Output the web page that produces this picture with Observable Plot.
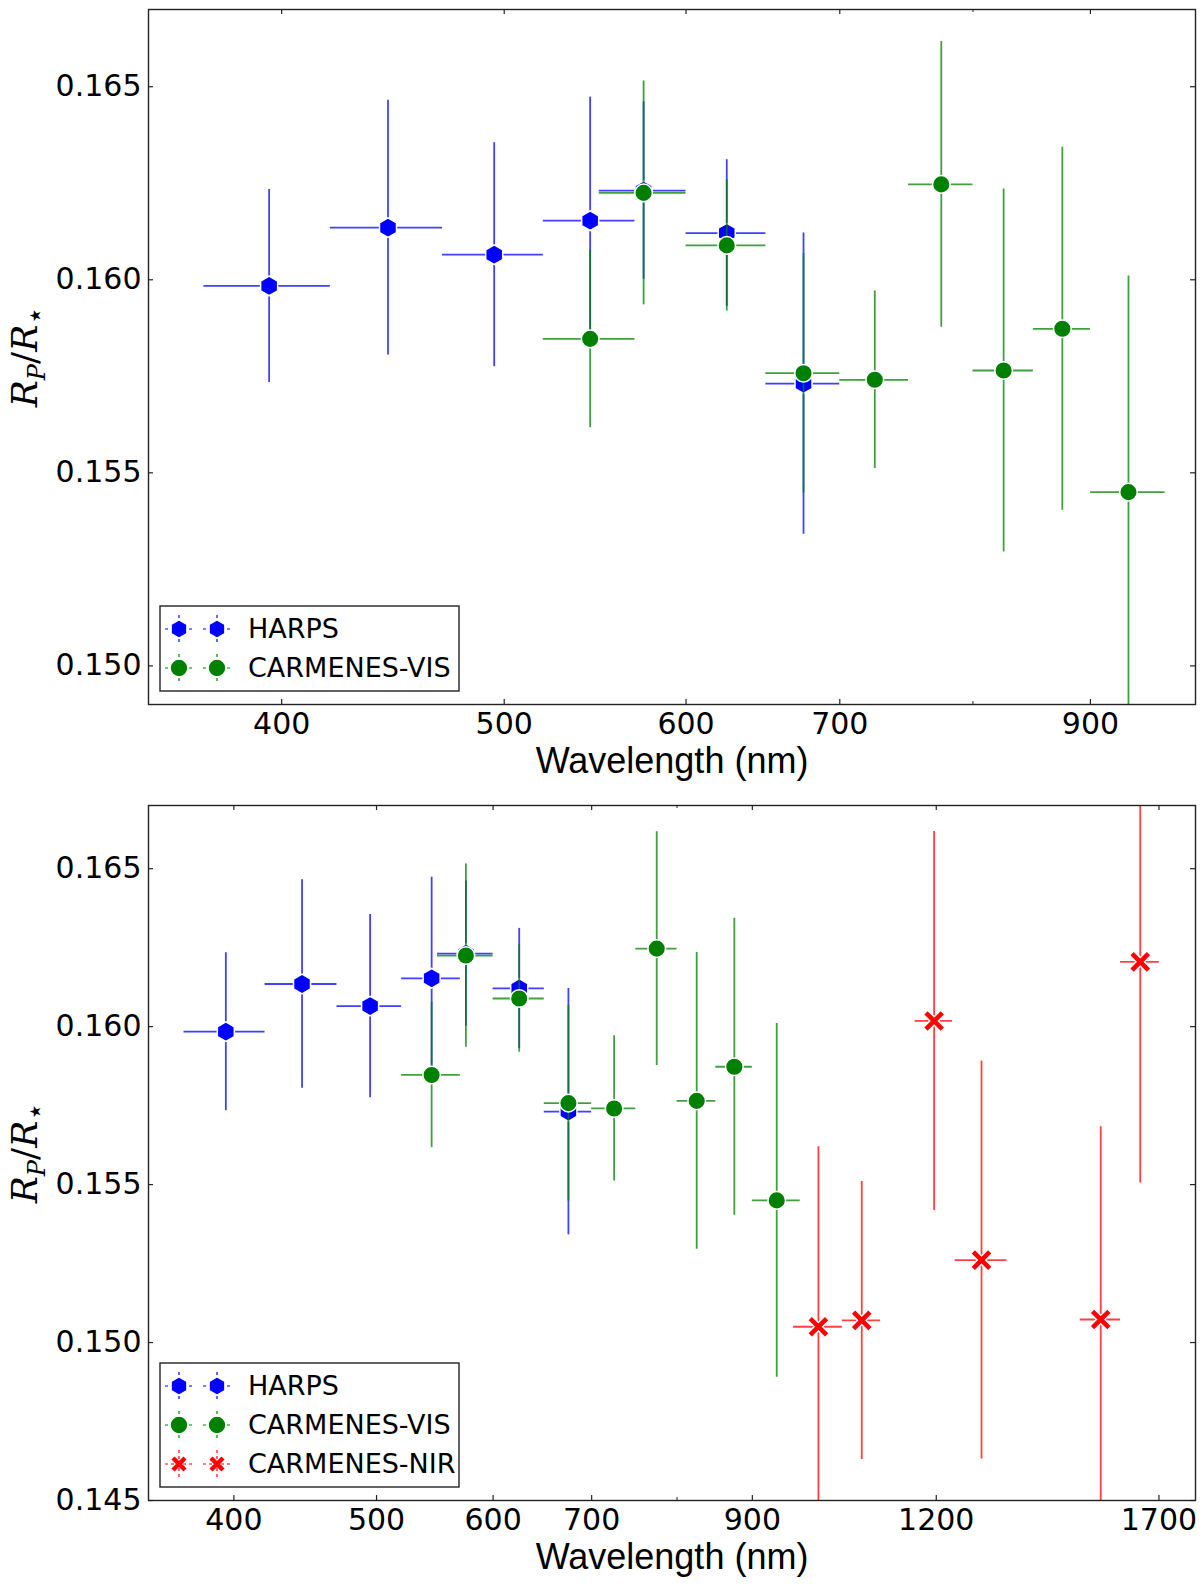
<!DOCTYPE html>
<html>
<head>
<meta charset="utf-8">
<script src="https://cdn.jsdelivr.net/npm/d3@7"></script>
<script src="https://cdn.jsdelivr.net/npm/@observablehq/plot@0.6"></script>
<style>
  body { margin: 0; background: white; overflow: hidden; }
  #chart svg { display: block; }
</style>
</head>
<body>
<div id="chart"></div>
<script>
// HARPS: bin centre (nm), bin half width, Rp/R*, 1-sigma error
const harpsWl = [395, 445, 495, 545, 575, 625, 675]
const harpsHalf = [25, 25, 25, 25, 25, 25, 25]
const harpsR = [0.15984, 0.16135, 0.16065, 0.16153, 0.16231, 0.16121, 0.15731]
const harpsErr = [0.0025, 0.0033, 0.0029, 0.0032, 0.0023, 0.0019, 0.0039]

// CARMENES-VIS
const visWl = [545, 575, 625, 675, 725, 775, 825, 875, 935]
const visHalf = [25, 25, 25, 25, 25, 25, 25, 25, 35]
const visR = [0.15847, 0.16225, 0.16089, 0.15758, 0.15741, 0.16247, 0.15765, 0.15873, 0.15450]
const visErr = [0.0023, 0.0029, 0.0017, 0.0031, 0.0023, 0.0037, 0.0047, 0.0047, 0.0056]

// CARMENES-NIR
const nirWl = [998, 1068, 1196, 1288, 1552, 1651]
const nirHalf = [38, 32, 35, 52, 49, 50]
const nirR = [0.15050, 0.15070, 0.16018, 0.15261, 0.15073, 0.16205]
const nirErr = [0.0057, 0.0044, 0.0060, 0.0063, 0.0061, 0.0070]

// axes
const xTicksTop = [400, 500, 600, 700, 900]
const xTicksBottom = [400, 500, 600, 700, 900, 1200, 1700]
const xMinorTicks = [800]
const yTicksTop = [0.150, 0.155, 0.160, 0.165]
const yTicksBottom = [0.145, 0.150, 0.155, 0.160, 0.165]

const toRows = (wl, half, r, err) => wl.map((w, i) => ({w, lo: w - half[i], hi: w + half[i], r: r[i], e: err[i]}))

const harps = {name: 'HARPS', color: '#0000ff', symbol: 'hexagon', rows: toRows(harpsWl, harpsHalf, harpsR, harpsErr)}
const vis = {name: 'CARMENES-VIS', color: '#008000', symbol: 'circle', rows: toRows(visWl, visHalf, visR, visErr)}
const nir = {name: 'CARMENES-NIR', color: '#ff0000', symbol: 'times', rows: toRows(nirWl, nirHalf, nirR, nirErr)}

const W = 1200
const mLeft = 148, mRight = 5
const plotH = 695
const plotW = W - mLeft - mRight

function seriesMarks(s) {
  const bars = [
    Plot.ruleX(s.rows, {x: 'w', y1: d => d.r - d.e, y2: d => d.r + d.e, stroke: s.color, strokeWidth: 1.8, strokeOpacity: 0.75, clip: true}),
    Plot.ruleY(s.rows, {y: 'r', x1: 'lo', x2: 'hi', stroke: s.color, strokeWidth: 1.8, strokeOpacity: 0.75, clip: true}),
  ]
  if (s.symbol == 'times') {
    return bars.concat([
      Plot.dot(s.rows, {x: 'w', y: 'r', symbol: 'times', r: 7.5, stroke: 'white', strokeWidth: 7.5}),
      Plot.dot(s.rows, {x: 'w', y: 'r', symbol: 'times', r: 7.5, stroke: s.color, strokeWidth: 4.6}),
    ])
  }
  return bars.concat([
    Plot.dot(s.rows, {x: 'w', y: 'r', symbol: s.symbol, r: s.symbol == 'hexagon' ? 8.5 : 8.8, fill: s.color, stroke: 'white', strokeWidth: 1.5}),
  ])
}

function panel({xDomain, yDomain, xTicks, yTicks, series, height, marginTop, marginBottom}) {
  const chart = Plot.plot({
    width: W,
    height: height,
    marginTop: marginTop,
    marginBottom: marginBottom,
    marginLeft: mLeft,
    marginRight: mRight,
    style: {fontFamily: 'DejaVu Sans', fontSize: '30px', color: 'black', background: 'white', overflow: 'visible'},
    x: {type: 'log', domain: xDomain},
    y: {domain: yDomain},
    marks: [
      // ticks pointing inwards on all four sides
      Plot.ruleX(xTicks, {x: d => d, insetTop: plotH - 5, stroke: '#222', strokeWidth: 1.2}),
      Plot.ruleX(xTicks, {x: d => d, insetBottom: plotH - 5, stroke: '#222', strokeWidth: 1.2}),
      Plot.ruleX(xMinorTicks, {x: d => d, insetTop: plotH - 3, stroke: '#222', strokeWidth: 1}),
      Plot.ruleX(xMinorTicks, {x: d => d, insetBottom: plotH - 3, stroke: '#222', strokeWidth: 1}),
      Plot.ruleY(yTicks, {y: d => d, insetRight: plotW - 5, stroke: '#222', strokeWidth: 1.2}),
      Plot.ruleY(yTicks, {y: d => d, insetLeft: plotW - 5, stroke: '#222', strokeWidth: 1.2}),
      Plot.axisX({ticks: xTicks, tickSize: 0, tickPadding: 8, tickFormat: d => String(d), label: null}),
      Plot.axisY({ticks: yTicks, tickSize: 0, tickPadding: 7, tickFormat: d3.format('.3f'), label: null}),
      Plot.text(['Wavelength (nm)'], {text: d => d, frameAnchor: 'bottom', lineAnchor: 'middle', dy: 57, fontSize: 36, fontFamily: 'Liberation Sans'}),
      ...series.flatMap(seriesMarks),
      Plot.frame({stroke: '#222', strokeWidth: 1.4}),
    ],
  })

  const svg = d3.select(chart)

  // y label  R_P / R_star
  const cy = marginTop + plotH / 2
  const lab = svg.append('text')
    .attr('transform', `translate(37,${cy}) rotate(-90)`)
    .attr('text-anchor', 'middle')
    .attr('font-family', 'DejaVu Serif')
    .attr('font-style', 'italic')
    .attr('font-size', 36)
    .attr('fill', 'black')
  lab.append('tspan').text('R')
  lab.append('tspan').attr('dy', 8).attr('font-size', 24).text('P')
  lab.append('tspan').attr('dy', -8).attr('font-style', 'normal').text('/')
  lab.append('tspan').text('R')
  lab.append('tspan').attr('dy', 8).attr('font-size', 30).attr('font-style', 'normal').text('⋆')

  // legend, lower left
  const frameBottom = marginTop + plotH
  const boxH = 46 + 39 * (series.length - 1)
  const boxTop = frameBottom - 13 - boxH
  const g = svg.append('g')
  g.append('rect')
    .attr('x', 160).attr('y', boxTop).attr('width', 299).attr('height', boxH)
    .attr('fill', 'white').attr('stroke', '#222').attr('stroke-width', 1.4)

  const hexPath = r => {
    const pts = d3.range(6).map(k => {
      const a = Math.PI / 2 + k * Math.PI / 3
      return [r * Math.cos(a), r * Math.sin(a)]
    })
    return 'M' + pts.map(p => p.join(',')).join('L') + 'Z'
  }

  series.forEach((s, i) => {
    const yy = boxTop + 23 + 39 * i
    ;[179, 217].forEach(xx => {
      const m = g.append('g').attr('transform', `translate(${xx},${yy})`)
      m.append('line').attr('x1', -14).attr('x2', 14).attr('y1', 0).attr('y2', 0)
        .attr('stroke', s.color).attr('stroke-width', 1.2).attr('stroke-dasharray', '3,3')
      m.append('line').attr('x1', 0).attr('x2', 0).attr('y1', -14).attr('y2', 14)
        .attr('stroke', s.color).attr('stroke-width', 1.2).attr('stroke-dasharray', '3,3')
      if (s.symbol == 'hexagon') {
        m.append('path').attr('d', hexPath(9)).attr('fill', s.color).attr('stroke', 'white').attr('stroke-width', 1.2)
      } else if (s.symbol == 'circle') {
        m.append('circle').attr('r', 8.8).attr('fill', s.color).attr('stroke', 'white').attr('stroke-width', 1.2)
      } else {
        m.append('path').attr('d', 'M-6,-6L6,6M-6,6L6,-6').attr('stroke', s.color).attr('stroke-width', 4.4)
      }
    })
    g.append('text')
      .attr('x', 248).attr('y', yy)
      .attr('dy', '0.35em')
      .attr('text-anchor', 'start')
      .attr('font-family', 'DejaVu Sans')
      .attr('font-size', 27)
      .attr('fill', 'black')
      .text(s.name)
  })

  return chart
}

const top1 = panel({
  xDomain: [350, 1000], yDomain: [0.149, 0.167],
  xTicks: xTicksTop, yTicks: yTicksTop,
  series: [harps, vis],
  height: 790, marginTop: 9, marginBottom: 86,
})

const bottom2 = panel({
  xDomain: [350, 1800], yDomain: [0.145, 0.167],
  xTicks: xTicksBottom, yTicks: yTicksBottom,
  series: [harps, vis, nir],
  height: 795, marginTop: 15, marginBottom: 85,
})

d3.select('#chart').append(() => top1)
d3.select('#chart').append(() => bottom2)
</script>
</body>
</html>
